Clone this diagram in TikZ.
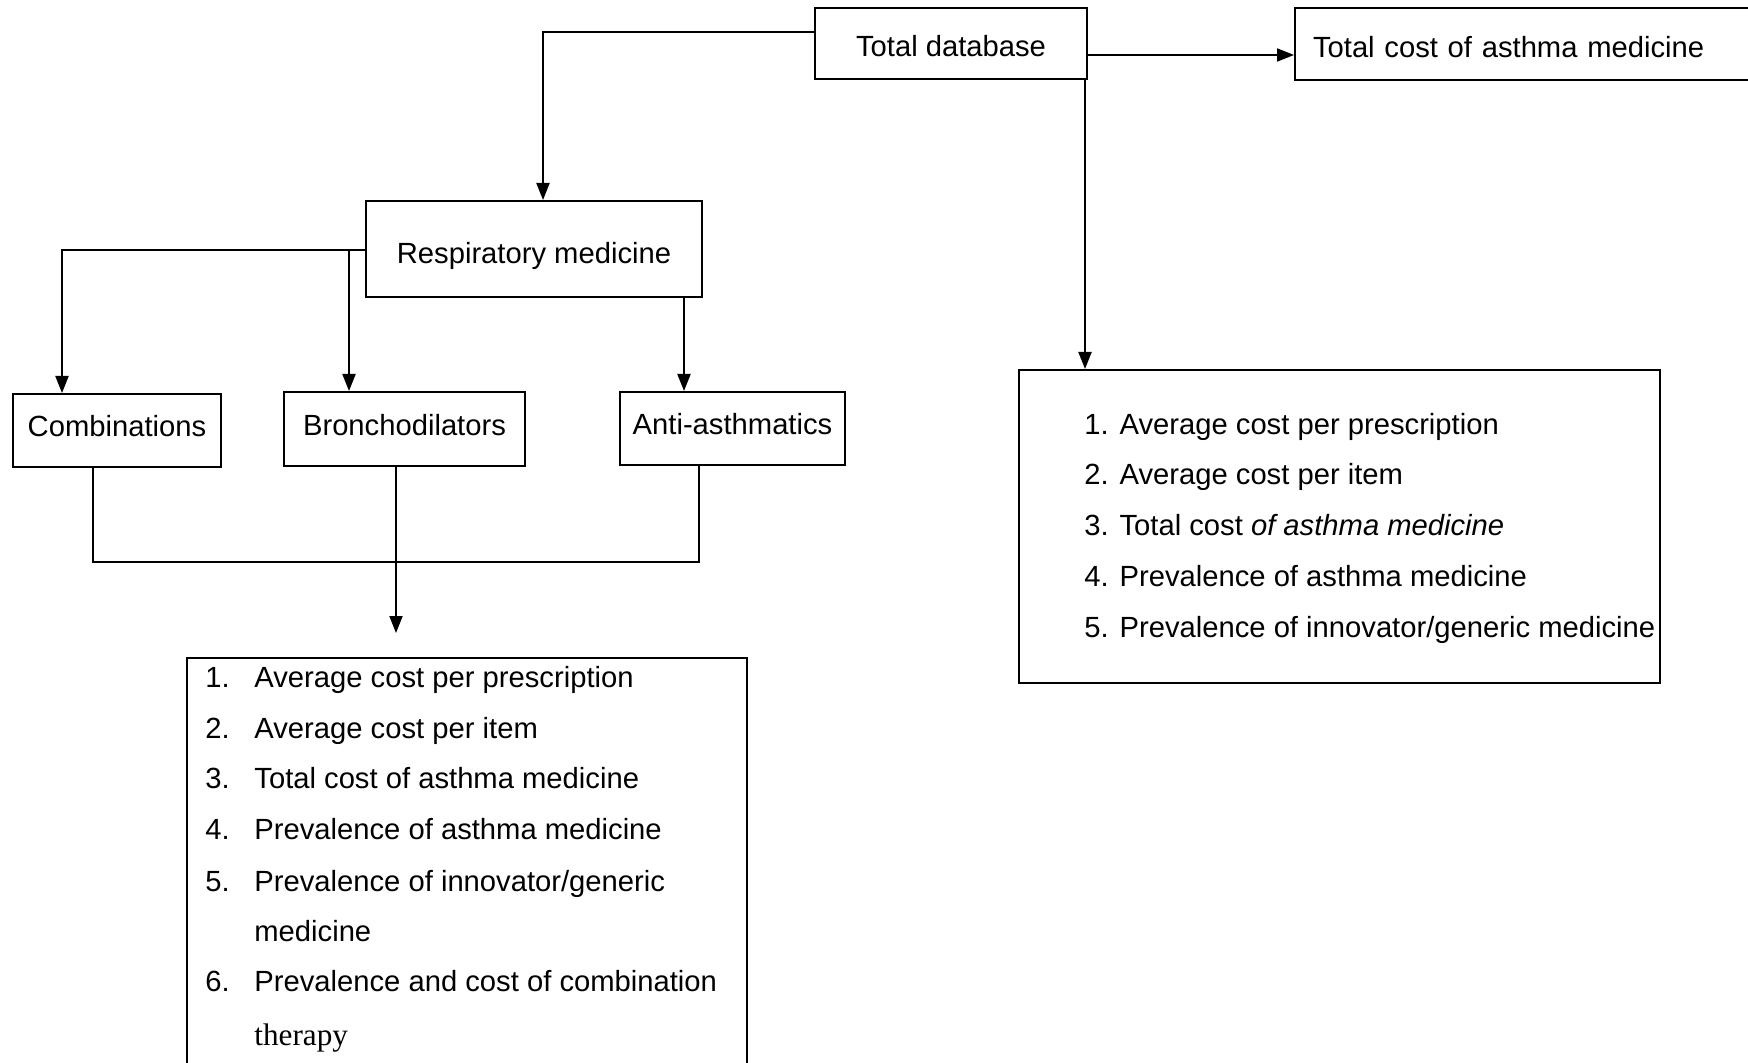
\documentclass[tikz,border=0pt]{standalone}
\usepackage{fontspec}
\setmainfont{Liberation Sans}
\newfontfamily\serifface{Liberation Serif}
\usetikzlibrary{arrows.meta}

\begin{document}
\begin{tikzpicture}[x=0.5pt,y=-0.5pt,
  txt/.style={font=\fontsize{14.6}{17}\selectfont},
  box/.style={txt, draw, line width=1pt, inner sep=0pt, text height=10.5pt, text depth=0pt},
  lower/.style={text height=13.5pt, text depth=0pt},
  lowerer/.style={text height=14.9pt, text depth=0pt},
  higher/.style={text height=10.5pt, text depth=4pt},
  arr/.style={line width=1pt, -{Triangle[length=8.5pt,width=6.5pt]}},
  link/.style={line width=1pt},
  item/.style={txt, anchor=west, inner sep=0pt, text height=10.5pt, text depth=0pt}]

\useasboundingbox (0,0) rectangle (1748,1063);

% top row
\node[box, lower, minimum width=136pt, minimum height=35.5pt] (td) at (951,43.5) {Total database};
\node[box, lower, anchor=west, minimum height=36pt, inner xsep=9pt, text width=215pt, align=left] (tc) at (1294,44) {Total cost of asthma medicine};

% respiratory branch
\node[box, lowerer, minimum width=168pt, minimum height=48pt] (resp) at (534,249) {Respiratory medicine};
\node[box, higher, minimum width=104pt, minimum height=36.5pt] (comb) at (117,430.5) {Combinations};
\node[box, higher, minimum width=120.5pt, minimum height=37pt] (bron) at (404.5,429) {Bronchodilators};
\node[box, higher, minimum width=112.5pt, minimum height=36.5pt] (anti) at (732.5,428.5) {Anti-asthmatics};

% outcome boxes
\node[box, anchor=north west, minimum width=280pt, minimum height=220pt] (llist) at (186,657) {};
\node[box, minimum width=320.5pt, minimum height=156.5pt] (rlist) at (1339.5,526.5) {};

% outcomes of the whole database
\node[item] (r1) at (1084,424) {1. Average cost per prescription};
\node[item] (r2) at (1084,474) {2. Average cost per item};
\node[item] (r3) at (1084,525) {3. Total cost \textit{of asthma medicine}};
\node[item] (r4) at (1084,576) {4. Prevalence of asthma medicine};
\node[item] (r5) at (1084,627) {5. Prevalence of innovator/generic medicine};

% outcomes of the respiratory groups
\node[item] (n1) at (205,677) {1.};
\node[item] (l1) at (254,677) {Average cost per prescription};
\node[item] (n2) at (205,728) {2.};
\node[item] (l2) at (254,728) {Average cost per item};
\node[item] (n3) at (205,778) {3.};
\node[item] (l3) at (254,778) {Total cost of asthma medicine};
\node[item] (n4) at (205,829) {4.};
\node[item] (l4) at (254,829) {Prevalence of asthma medicine};
\node[item] (n5) at (205,881) {5.};
\node[item] (l5) at (254,881) {Prevalence of innovator/generic};
\node[item] (l5b) at (254,931) {medicine};
\node[item] (n6) at (205,981) {6.};
\node[item] (l6) at (254,981) {Prevalence and cost of combination};
\node[item, font=\serifface\fontsize{15.6}{18}\selectfont] (l6b) at (254,1035) {therapy};

% connectors
\draw[arr] (td.east |- 0,55) -- (tc.west |- 0,55);
\draw[arr] (td.west |- 0,32) -| (resp.north -| 543,0);
\draw[arr] (td.south -| 1085,0) -- (rlist.north -| 1085,0);

\coordinate (split) at (349,250);
\draw[arr] (resp.west |- 0,250) -| (comb.north -| 62,0);
\draw[arr] (split) -- (bron.north -| split);
\draw[arr] (resp.south -| 684,0) -- (anti.north -| 684,0);

\coordinate (jl) at (93,562);
\coordinate (jr) at (699,562);
\coordinate (lend) at (396,633);
\draw[link] (comb.south -| jl) -- (jl) -- (jr) -- (anti.south -| jr);
\draw[arr] (bron.south -| lend) -- (lend);

\end{tikzpicture}
\end{document}
